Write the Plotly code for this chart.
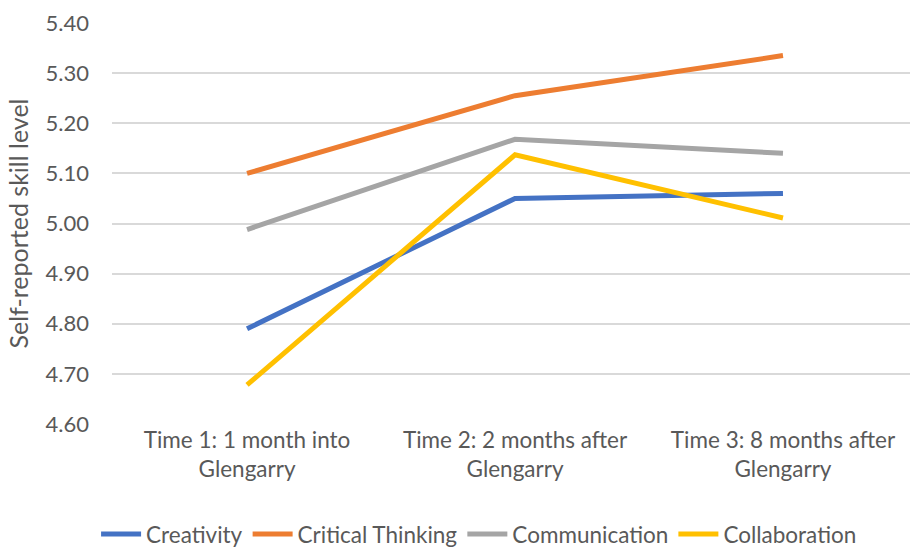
import plotly.graph_objects as go

categories = ["Time 1: 1 month into<br>Glengarry",
              "Time 2: 2 months after<br>Glengarry",
              "Time 3: 8 months after<br>Glengarry"]
creativity = [4.79, 5.05, 5.06]
critical_thinking = [5.10, 5.255, 5.335]
communication = [4.988, 5.168, 5.14]
collaboration = [4.678, 5.137, 5.011]
y_ticks = [4.60, 4.70, 4.80, 4.90, 5.00, 5.10, 5.20, 5.30, 5.40]

series = [
    ("Creativity", creativity, "#4472C4"),
    ("Critical Thinking", critical_thinking, "#ED7D31"),
    ("Communication", communication, "#A5A5A5"),
    ("Collaboration", collaboration, "#FFC000"),
]

FONT = "Lato"
TXT = "#595959"

fig = go.Figure()
for name, vals, color in series:
    fig.add_trace(go.Scatter(
        x=categories, y=vals, name=name, mode="lines",
        line=dict(color=color, width=5),
    ))

fig.update_layout(
    width=912, height=552,
    margin=dict(l=112, r=2, t=23, b=128, autoexpand=False),
    paper_bgcolor="white", plot_bgcolor="white",
    font=dict(family=FONT, size=22, color=TXT),
    showlegend=True,
    legend=dict(orientation="h", x=0.46, xanchor="center", y=-0.275, yanchor="middle",
                font=dict(family=FONT, size=22.5, color=TXT),
                itemwidth=40, tracegroupgap=0),
    xaxis=dict(type="category", range=[-0.504, 2.474], showgrid=False,
               showline=False, zeroline=False, ticks="", automargin=False,
               tickfont=dict(family=FONT, size=22.5, color=TXT)),
    yaxis=dict(range=[4.60, 5.40], tickvals=y_ticks, automargin=False,
               tickformat=".2f", showgrid=True, gridcolor="#D9D9D9", gridwidth=1.5,
               zeroline=False, showline=False, ticks="",
               ticklabelstandoff=22,
               tickfont=dict(family=FONT, size=22, color=TXT),
               title=dict(text="Self-reported skill level", standoff=9,
                          font=dict(family=FONT, size=25, color=TXT))),
)

fig.write_html("out.html", config={"displayModeBar": False},
               post_script="document.body.style.margin='0';document.body.style.overflow='hidden';")
